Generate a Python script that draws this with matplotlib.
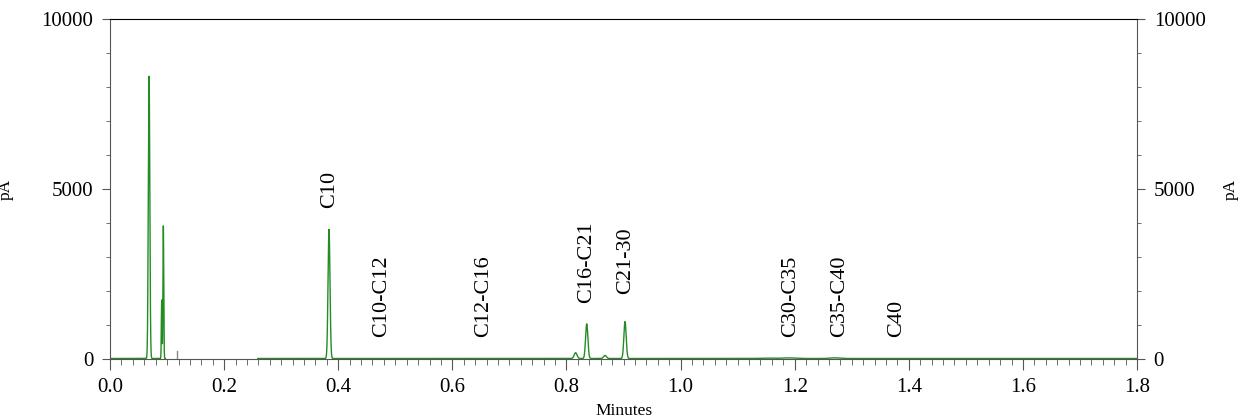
import numpy as np
import matplotlib
matplotlib.use('Agg')
import matplotlib.pyplot as plt
from matplotlib.ticker import MultipleLocator

plt.rcParams['font.family'] = ['Liberation Serif', 'DejaVu Serif']

# peaks of the trace: retention time (min), height (pA), width (sigma, min)
peak_rt = [0.0684, 0.0905, 0.0934, 0.3838, 0.8160, 0.8355, 0.8676, 0.9026]
peak_height = [8300, 1720, 3900, 3800, 170, 1020, 90, 1090]
peak_sigma = [0.0013, 0.0006, 0.0007, 0.0017, 0.0025, 0.0020, 0.0025, 0.0020]

# slow humps in the late part of the run
hump_rt = [1.15, 1.19, 1.27]
hump_height = [12, 18, 20]
hump_sigma = [0.012, 0.012, 0.008]

baseline = 15
# recorded windows of the detector signal
windows = [(0.0, 0.097), (0.259, 1.8)]

# carbon range labels: x position, bottom of text (pA)
range_labels = ['C10', 'C10-C12', 'C12-C16', 'C16-C21', 'C21-30', 'C30-C35', 'C35-C40', 'C40']
label_x = [0.384, 0.476, 0.654, 0.836, 0.904, 1.192, 1.278, 1.379]
label_y = [4450, 650, 650, 1650, 1900, 650, 650, 650]

marker_x = 0.117
marker_h = 250

green = '#238c23'

fig = plt.figure(figsize=(12.42, 4.2), dpi=100)
ax = fig.add_axes([0.0886, 0.1452, 0.8269, 0.8096])

for t0, t1 in windows:
    t = np.linspace(t0, t1, 6000)
    sig = np.full_like(t, baseline, dtype=float)
    for rt, h, s in zip(peak_rt, peak_height, peak_sigma):
        sig += h * np.exp(-0.5 * ((t - rt) / s) ** 2)
    for rt, h, s in zip(hump_rt, hump_height, hump_sigma):
        sig += h * np.exp(-0.5 * ((t - rt) / s) ** 2)
    ax.plot(t, sig, color=green, lw=1.0)

ax.plot([marker_x, marker_x], [0, marker_h], color='#888888', lw=1.0)

for name, x, y in zip(range_labels, label_x, label_y):
    ax.text(x, y, name, rotation=90, ha='center', va='bottom', fontsize=16)

ax.set_xlim(0, 1.8)
ax.set_ylim(0, 10000)
ax.xaxis.set_major_locator(MultipleLocator(0.2))
ax.xaxis.set_minor_locator(MultipleLocator(0.02))
ax.yaxis.set_major_locator(MultipleLocator(5000))
ax.yaxis.set_minor_locator(MultipleLocator(1000))
ax.set_xticklabels([f'{v:.1f}' for v in ax.get_xticks()])

spine_col = '#555555'
for side in ['left', 'right', 'bottom']:
    ax.spines[side].set_color(spine_col)
ax.spines['top'].set_color('black')

ax.tick_params(axis='both', which='major', direction='out', color=spine_col, labelsize=15)
ax.tick_params(axis='x', which='major', length=8, pad=6)
ax.tick_params(axis='x', which='minor', length=4, color=spine_col)
ax.tick_params(axis='y', which='major', length=6, pad=6, left=True, right=True,
               labelleft=True, labelright=True)
ax.tick_params(axis='y', which='minor', length=3, left=True, right=True, color=spine_col)

ax.set_xlabel('Minutes', fontsize=12.5, labelpad=4)
ax.set_ylabel('pA', fontsize=12.5, labelpad=20)
fig.text(0.991, 0.55, 'pA', rotation=90, ha='center', va='center', fontsize=12.5)

fig.savefig('out.png', dpi=100)
